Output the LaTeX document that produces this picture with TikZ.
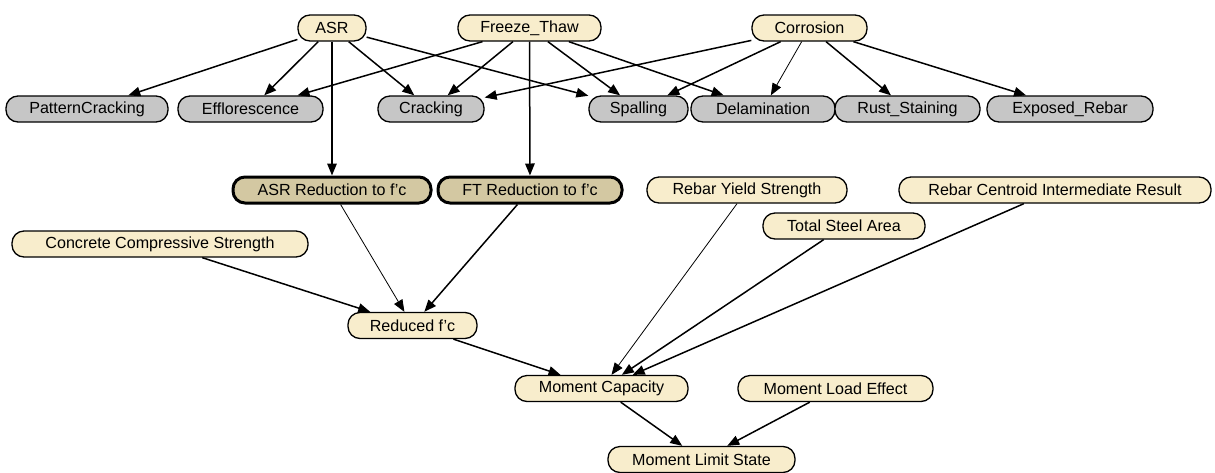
\documentclass[tikz,border=0pt]{standalone}
\usepackage{fontspec}
\setmainfont{Liberation Sans}
\usetikzlibrary{arrows.meta}
\definecolor{cream}{HTML}{F8EDCC}
\definecolor{grayfill}{HTML}{C6C6C6}
\definecolor{tanfill}{HTML}{D3C8A2}
\newcommand{\apo}{\char"0027\relax}
\tikzset{
  nd/.style={draw=black, line width=1.3pt, rounded corners=12pt, minimum height=26pt, inner sep=0pt,
    font=\fontsize{16.1pt}{19pt}\selectfont, text=black},
  cnode/.style={nd, fill=cream},
  gnode/.style={nd, fill=grayfill},
  tnode/.style={nd, fill=tanfill, line width=3pt},
  edge/.style={line width=1.5pt, -{Triangle[length=12pt,width=9.5pt]}},
  thin edge/.style={line width=0.8pt, -{Triangle[length=12pt,width=9.5pt]}},
}
\begin{document}
\begin{tikzpicture}[x=1pt,y=-1pt]
\useasboundingbox (0,0) rectangle (1215,472);
% top row
\node[cnode, minimum width=68pt] (asr) at (332,28) {ASR};
\node[cnode, minimum width=143pt] (ft) at (529.5,28) {Freeze\_Thaw};
\node[cnode, minimum width=115pt] (cor) at (809.5,28) {Corrosion};
% symptoms
\node[gnode, minimum width=162pt] (pc) at (87,109) {PatternCracking};
\node[gnode, minimum width=145pt] (eff) at (250.5,109) {Efflorescence};
\node[gnode, minimum width=106pt] (crk) at (431,109) {Cracking};
\node[gnode, minimum width=99pt] (spa) at (638.5,109) {Spalling};
\node[gnode, minimum width=144pt] (del) at (763,109) {Delamination};
\node[gnode, minimum width=145pt] (rust) at (907.5,109) {Rust\_Staining};
\node[gnode, minimum width=166pt] (exp) at (1070,109) {Exposed\_Rebar};
% reductions and inputs
\node[tnode, minimum width=198pt] (asrr) at (332,190) {ASR Reduction to f\apo c};
\node[tnode, minimum width=184pt] (ftr) at (530,190) {FT Reduction to f\apo c};
\node[cnode, minimum width=200pt] (rys) at (747,190) {Rebar Yield Strength};
\node[cnode, minimum width=312pt] (rci) at (1055,190) {Rebar Centroid Intermediate Result};
\node[cnode, minimum width=162pt] (tsa) at (844,226) {Total Steel Area};
\node[cnode, minimum width=296pt] (ccs) at (160,244) {Concrete Compressive Strength};
\node[cnode, minimum width=129pt] (red) at (412.5,325.5) {Reduced f\apo c};
% bottom
\node[cnode, minimum width=173pt] (mc) at (601.5,388.5) {Moment Capacity};
\node[cnode, minimum width=195pt] (mle) at (835.5,388.5) {Moment Load Effect};
\node[cnode, minimum width=187pt] (mls) at (701.5,459.5) {Moment Limit State};
% edges
\draw[edge] (asr) -- (pc);
\draw[edge] (asr) -- (eff);
\draw[edge] (asr) -- (crk);
\draw[edge] (asr) -- (spa);
\draw[edge] (asr) -- (asrr);
\draw[edge] (ft) -- (eff);
\draw[edge] (ft) -- (crk);
\draw[edge] (ft) -- (spa);
\draw[edge] (ft) -- (del);
\draw[edge] (ft) -- (ftr);
\draw[edge] (cor) -- (crk);
\draw[edge] (cor) -- (spa);
\draw[thin edge] (cor) -- (del);
\draw[edge] (cor) -- (rust);
\draw[edge] (cor) -- (exp);
\draw[thin edge] (asrr) -- (red);
\draw[edge] (ftr) -- (red);
\draw[edge] (ccs) -- (red);
\draw[edge] (red) -- (mc);
\draw[thin edge] (rys) -- (mc);
\draw[edge] (tsa) -- (mc);
\draw[edge] (rci) -- (mc);
\draw[edge] (mc) -- (mls);
\draw[edge] (mle) -- (mls);
\end{tikzpicture}
\end{document}
